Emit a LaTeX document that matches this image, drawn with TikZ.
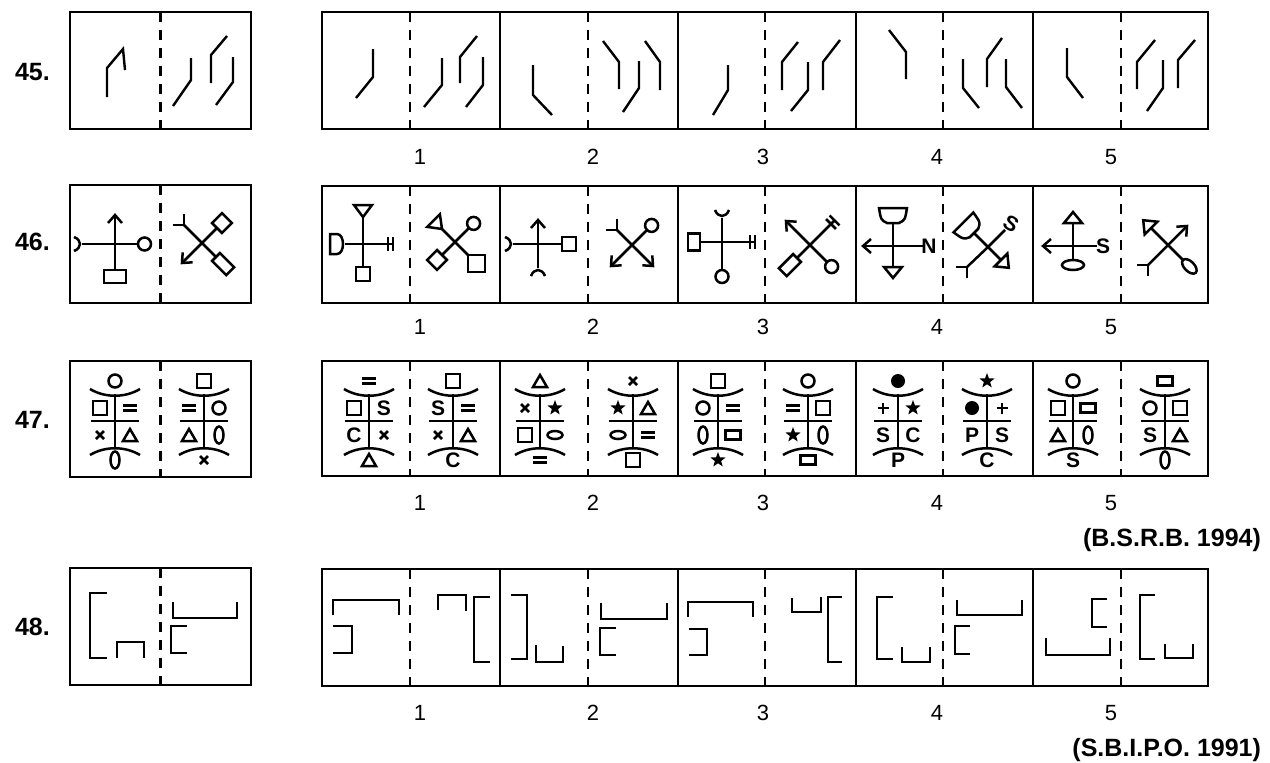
\documentclass[tikz,border=0pt]{standalone}
\usepackage{fontspec}
\setmainfont{Liberation Sans}
\tikzset{
  boxline/.style={line width=1.4pt},
  dashline/.style={line width=1.2pt, dash pattern=on 5pt off 4pt},
  fA/.style={line width=1.2pt},
  fB/.style={line width=1.25pt},
  fC/.style={line width=1.25pt},
  fD/.style={line width=1.45pt},
  lbl/.style={font=\fontsize{12.5}{14}\selectfont\bfseries},
  num/.style={font=\fontsize{11}{13}\selectfont},
  lett/.style={font=\fontsize{10.5}{12}\selectfont\bfseries, inner sep=0pt},
  % row 46 end symbols (drawn pointing "up", arm comes from below)
  pics/arrowend/.style={code={\draw (-7,8)--(0,0)--(7,8);}},
  pics/circend/.style={code={\draw (0,-6.5) circle (6.5);}},
  pics/sqend/.style={code={\draw (-7,0) rectangle (7,-14);}},
  pics/sqcorner/.style={code={\draw (0,0)--(-12,-12)--(0,-24)--(12,-12)--cycle;}},
  pics/rectlong/.style={code={\draw (-5.5,0) rectangle (5.5,-20);}},
  pics/rectwide/.style={code={\draw (-11,0) rectangle (11,-13);}},
  pics/rectsmall/.style={code={\draw (-8.5,0) rectangle (8.5,-12);}},
  pics/cupend/.style={code={\draw (-7,-8) .. controls (-4,0) and (4,0) .. (7,-8);}},
  pics/vfork/.style={code={\draw (-8,-8)--(0,0)--(8,-8);}},
  pics/dbar/.style={code={\draw (0,0)--(0,-5) (-7,0)--(7,0) (-7,-5)--(7,-5);}},
  pics/triin/.style={code={\draw (0,0)--(-9,-12)--(9,-12)--cycle;}},
  pics/triout/.style={code={\draw (-9,0)--(9,0)--(0,-11)--cycle;}},
  pics/dshape/.style={code={\draw (-10,-15)--(10,-15)--(10,-8) .. controls (10,0) and (-10,0) .. (-10,-8)--cycle;}},
  pics/cupshape/.style={code={\draw (-14,-15)--(14,-15) .. controls (12,-3) .. (6,0)--(-6,0) .. controls (-12,-3) .. (-14,-15)--cycle;}},
  pics/ellperp/.style={code={\draw (0,-5) ellipse (11 and 5);}},
  pics/ellalong/.style={code={\draw (0,-9) ellipse (5 and 9);}},
  % row 47 symbols (centred)
  pics/sq/.style={code={\draw (-7,-7) rectangle (7,7);}},
  pics/rect/.style={code={\draw (-7.5,-4.5) rectangle (7.5,4.5);}},
  pics/circ/.style={code={\draw (0,0) circle (6.5);}},
  pics/dot/.style={code={\fill (0,0) circle (7);}},
  pics/tri/.style={code={\draw (-7,6)--(7,6)--(0,-6)--cycle;}},
  pics/star/.style={code={\fill (-90:8) foreach \k in {1,2,3,4,5} {-- (-126+72*\k:3.3) -- (-90+72*\k:8)} -- cycle;}},
  pics/ell/.style={code={\draw (0,0) ellipse (7.5 and 4);}},
  pics/zero/.style={code={\draw (0,0) ellipse (4.5 and 8.5);}},
  pics/eq/.style={code={\draw (-7,-2.5)--(7,-2.5) (-7,2.5)--(7,2.5);}},
  pics/times/.style={code={\draw (-4,-4)--(4,4) (-4,4)--(4,-4);}},
  pics/plus/.style={code={\draw (-5.5,0)--(5.5,0) (0,-5.5)--(0,5.5);}},
  pics/letS/.style={code={\node[lett] {S};}},
  pics/letC/.style={code={\node[lett] {C};}},
  pics/letP/.style={code={\node[lett] {P};}},
}
\newcommand{\qframe}[2]{\draw[boxline] (70,#1) rectangle (251,#2); \draw[dashline] (160.5,#1)--(160.5,#2);}
\newcommand{\aframe}[2]{\draw[boxline] (322,#1) rectangle (1208,#2);
  \foreach \xx in {500,678,856,1033} {\draw[boxline] (\xx,#1)--(\xx,#2);}
  \foreach \xx in {410,588,765,943,1121} {\draw[dashline] (\xx,#1)--(\xx,#2);}}
\newcommand{\nums}[1]{\foreach \xx/\nn in {420/1,593/2,763/3,937/4,1111/5} {\node[num] at (\xx,#1) {\nn};}}
\newcommand{\totem}[7]{%
  \draw (#1,33)--(#1,87) (#1-24,60)--(#1+24,60);
  \draw (#1-25,28) .. controls (#1-10,37) and (#1+10,37) .. (#1+25,28);
  \draw (#1-25,94) .. controls (#1-10,85) and (#1+10,85) .. (#1+25,94);
  \pic at (#1,20) {#2}; \pic at (#1-15,47) {#3}; \pic at (#1+15,47) {#4};
  \pic at (#1-15,74) {#5}; \pic at (#1+15,74) {#6}; \pic at (#1,99) {#7};}
\begin{document}
\begin{tikzpicture}[x=0.5pt,y=-0.5pt, line cap=butt]
\useasboundingbox (0,0) rectangle (1270,762);
\fill[white] (0,0) rectangle (1270,762);

% ---------------- labels ----------------
\node[lbl, anchor=west] (l45) at (8,72) {45.};
\node[lbl, anchor=west] (l46) at (8,242) {46.};
\node[lbl, anchor=west] (l47) at (8,420) {47.};
\node[lbl, anchor=west] (l48) at (8,627) {48.};
\nums{157}
\nums{327}
\nums{503}
\nums{713}
\node[lbl, anchor=east] (c47) at (1268,540) {(B.S.R.B. 1994)};
\node[lbl, anchor=east] (c48) at (1268,750) {(S.B.I.P.O. 1991)};

% ---------------- frames ----------------
\qframe{12}{129}  \aframe{12}{129}
\qframe{185}{303} \aframe{186}{303}
\qframe{361}{477} \aframe{361}{476}
\qframe{568}{685} \aframe{569}{686}

% ---------------- row 45 ----------------
\begin{scope}[shift={(70,12)}, fA]
  \draw (37,85)--(37,56)--(53,37)--(55,58);
  \draw (121,46)--(121,68)--(103,94) (157,24)--(141,43)--(141,71) (163,45)--(163,70)--(146,93);
\end{scope}
\begin{scope}[shift={(322,12)}, fA]
  \draw (51,37)--(51,65)--(34,86);
  \draw (120,46)--(120,73)--(102,95) (155,24)--(138,45)--(138,71) (161,45)--(161,73)--(144,95);
\end{scope}
\begin{scope}[shift={(500,12)}, fA]
  \draw (33,53)--(33,83)--(52,103);
  \draw (103,29)--(119,50)--(119,77) (139,49)--(139,76)--(123,100) (145,29)--(160,50)--(160,78);
\end{scope}
\begin{scope}[shift={(678,12)}, fA]
  \draw (50,53)--(50,78)--(35,103);
  \draw (120,30)--(104,50)--(104,78) (130,50)--(130,78)--(113,99) (162,28)--(145,50)--(145,78);
\end{scope}
\begin{scope}[shift={(856,12)}, fA]
  \draw (33,18)--(50,40)--(50,67);
  \draw (107,47)--(107,76)--(123,96) (146,26)--(131,47)--(131,75) (150,47)--(150,75)--(166,96);
\end{scope}
\begin{scope}[shift={(1033,12)}, fA]
  \draw (34,36)--(34,65)--(50,86);
  \draw (122,28)--(104,50)--(104,77) (130,48)--(130,76)--(114,99) (162,28)--(145,48)--(145,76);
\end{scope}

% ---------------- row 46 ----------------
\begin{scope}[shift={(70,185)}, fB]
  \draw (45,30)--(45,85) (12,59)--(68,59);
  \pic at (45,30) {arrowend};
  \pic[rotate=180] at (45,85) {rectwide};
  \pic[rotate=90] at (12,59) {cupend};
  \pic[rotate=-90] at (68,59) {circend};
  \draw (132,58) -- ++(-18,-18) pic[rotate=45] {vfork};
  \draw (132,58) -- ++(15,-15) pic[rotate=-45] {sqend};
  \draw (132,58) -- ++(-20,20) pic[rotate=135] {arrowend};
  \draw (132,58) -- ++(14,14) pic[rotate=-135] {rectlong};
\end{scope}
\begin{scope}[shift={(322,186)}, fB]
  \draw (41,31)--(41,81) (23,58)--(66,58);
  \pic at (41,31) {triin};
  \pic[rotate=180] at (41,81) {sqend};
  \pic[rotate=90] at (23,58) {dshape};
  \pic[rotate=-90] at (66,58) {dbar};
  \draw (133,56) -- ++(-13,-13) pic[rotate=45] {triin};
  \draw (133,56) -- ++(14,-14) pic[rotate=-45] {circend};
  \draw (133,56) -- ++(-13,13) pic[rotate=135] {sqend};
  \draw (133,56) -- ++(13,13) pic[rotate=-135] {sqcorner};
\end{scope}
\begin{scope}[shift={(500,186)}, fB]
  \draw (38,34)--(38,82) (13,58)--(62,58);
  \pic at (38,34) {arrowend};
  \pic[rotate=180] at (38,82) {cupend};
  \pic[rotate=90] at (13,58) {cupend};
  \pic[rotate=-90] at (62,58) {sqend};
  \draw (132,59) -- ++(-15,-15) pic[rotate=45] {vfork};
  \draw (132,59) -- ++(15,-15) pic[rotate=-45] {circend};
  \draw (132,59) -- ++(-21,21) pic[rotate=135] {arrowend};
  \draw (132,59) -- ++(21,21) pic[rotate=-135] {arrowend};
\end{scope}
\begin{scope}[shift={(678,186)}, fB]
  \draw (44,32)--(44,84) (22,56)--(72,56);
  \pic at (44,32) {cupend};
  \pic[rotate=90] at (22,56) {rectsmall};
  \pic[rotate=-90] at (72,56) {dbar};
  \pic[rotate=180] at (44,84) {circend};
  \draw (132,59) -- ++(-24,-24) pic[rotate=45] {arrowend};
  \draw (132,59) -- ++(21,-21) pic[rotate=-45] {dbar};
  \draw (132,59) -- ++(-13,13) pic[rotate=135] {rectlong};
  \draw (132,59) -- ++(17,17) pic[rotate=-135] {circend};
\end{scope}
\begin{scope}[shift={(856,186)}, fB]
  \draw (37,37)--(37,81) (7,60)--(67,60);
  \pic at (37,37) {cupshape};
  \pic[rotate=180] at (37,81) {triout};
  \pic[rotate=90] at (7,60) {arrowend};
  \node[lett] (n4) at (73,60) {N};
  \draw (132,61) -- ++(-14,-14) pic[rotate=45] {cupshape};
  \draw (132,61) -- ++(17,-17);
  \node[lett, rotate=-30] (s4) at (155,38) {S};
  \draw (132,61) -- ++(-21,20) pic[rotate=135] {vfork};
  \draw (132,61) -- ++(13,13) pic[rotate=-135] {triout};
\end{scope}
\begin{scope}[shift={(1033,186)}, fB]
  \draw (40,37)--(40,74) (10,60)--(64,60);
  \pic at (40,37) {triout};
  \pic[rotate=180] at (40,74) {ellperp};
  \pic[rotate=90] at (10,60) {arrowend};
  \node[lett] (s5) at (70,60) {S};
  \draw (135,59) -- ++(-17,-17) pic[rotate=45] {triout};
  \draw (135,59) -- ++(19,-19) pic[rotate=-45] {arrowend};
  \draw (135,59) -- ++(-20,20) pic[rotate=135] {vfork};
  \draw (135,59) -- ++(15,15) pic[rotate=-135] {ellalong};
\end{scope}

% ---------------- row 47 ----------------
\begin{scope}[shift={(70,361)}, fC]
  \totem{45}{circ}{sq}{eq}{times}{tri}{zero}
  \totem{134}{sq}{eq}{circ}{tri}{zero}{times}
\end{scope}
\begin{scope}[shift={(322,361)}, fC]
  \totem{47}{eq}{sq}{letS}{letC}{times}{tri}
  \totem{131}{sq}{letS}{eq}{times}{tri}{letC}
\end{scope}
\begin{scope}[shift={(500,361)}, fC]
  \totem{40}{tri}{times}{star}{sq}{ell}{eq}
  \totem{133}{times}{star}{tri}{ell}{eq}{sq}
\end{scope}
\begin{scope}[shift={(678,361)}, fC]
  \totem{40}{sq}{circ}{eq}{zero}{rect}{star}
  \totem{130}{circ}{eq}{sq}{star}{zero}{rect}
\end{scope}
\begin{scope}[shift={(856,361)}, fC]
  \totem{42}{dot}{plus}{star}{letS}{letC}{letP}
  \totem{131}{star}{dot}{plus}{letP}{letS}{letC}
\end{scope}
\begin{scope}[shift={(1033,361)}, fC]
  \totem{40}{circ}{sq}{rect}{tri}{zero}{letS}
  \totem{132}{rect}{circ}{sq}{letS}{tri}{zero}
\end{scope}

% ---------------- row 48 ----------------
\begin{scope}[shift={(70,568)}, fD]
  \draw (37,25)--(20,25)--(20,90)--(37,90) (47,90)--(47,74)--(74,74)--(74,90);
  \draw (103,34)--(103,50)--(167,50)--(167,34) (117,58)--(101,58)--(101,85)--(117,85);
\end{scope}
\begin{scope}[shift={(322,569)}, fD]
  \draw (11,46)--(11,31)--(77,31)--(77,46) (11,57)--(30,57)--(30,84)--(11,84);
  \draw (116,41)--(116,26)--(144,26)--(144,42) (168,28)--(152,28)--(152,93)--(168,93);
\end{scope}
\begin{scope}[shift={(500,569)}, fD]
  \draw (11,26)--(27,26)--(27,90)--(11,90) (36,76)--(36,93)--(63,93)--(63,77);
  \draw (101,34)--(101,50)--(167,50)--(167,34) (116,59)--(100,59)--(100,86)--(116,86);
\end{scope}
\begin{scope}[shift={(678,569)}, fD]
  \draw (10,48)--(10,33)--(75,33)--(75,48) (11,60)--(29,60)--(29,86)--(11,86);
  \draw (114,29)--(114,43)--(143,43)--(143,28) (164,28)--(150,28)--(150,93)--(164,93);
\end{scope}
\begin{scope}[shift={(856,569)}, fD]
  \draw (37,28)--(21,28)--(21,90)--(37,90) (46,78)--(46,93)--(74,93)--(74,78);
  \draw (101,31)--(101,46)--(166,46)--(166,31) (114,57)--(99,57)--(99,85)--(114,85);
\end{scope}
\begin{scope}[shift={(1033,569)}, fD]
  \draw (74,30)--(59,30)--(59,58)--(74,58) (13,69)--(13,86)--(77,86)--(77,69);
  \draw (122,26)--(107,26)--(107,90)--(122,90) (132,75)--(132,89)--(160,89)--(160,75);
\end{scope}
\end{tikzpicture}
\end{document}
